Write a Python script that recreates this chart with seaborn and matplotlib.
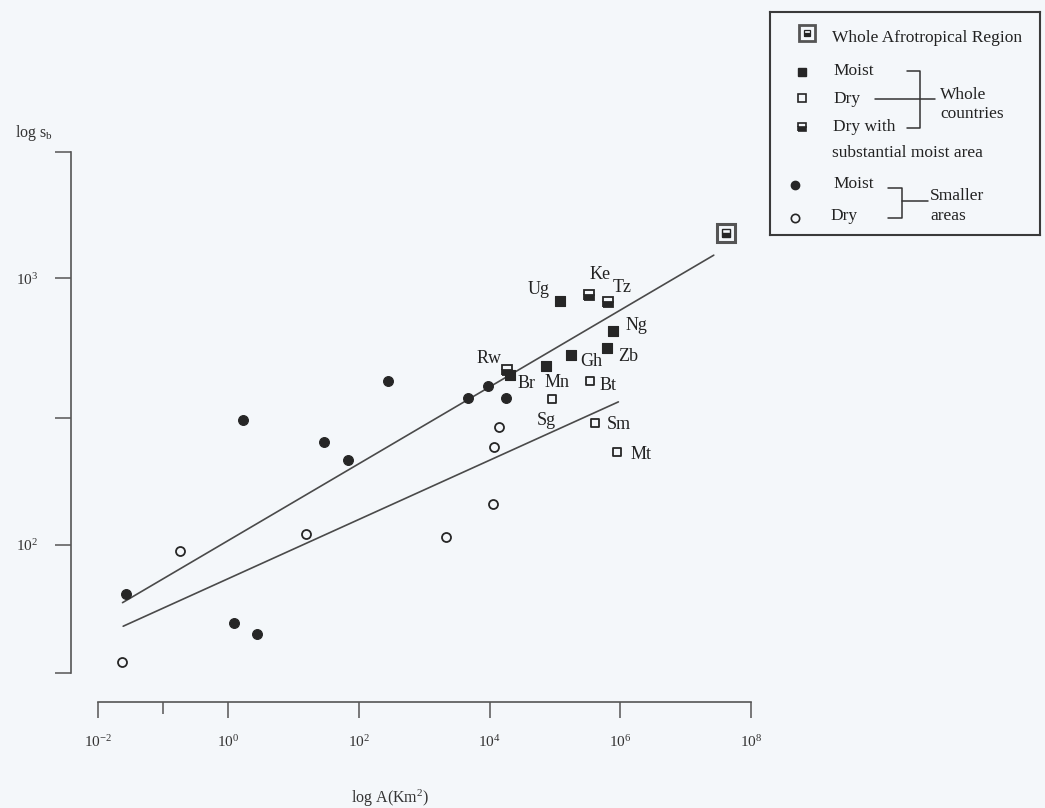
import numpy as np
import pandas as pd
import matplotlib.pyplot as plt
import seaborn as sns
from matplotlib.ticker import FixedLocator, NullLocator, NullFormatter

# values (log10 of area in km2, log10 of species count)
moist_country_names = ["Ug", "Ng", "Zb", "Gh", "Mn", "Br"]
moist_country_logA = [5.07, 5.89, 5.80, 5.24, 4.86, 4.31]
moist_country_logS = [2.915, 2.804, 2.738, 2.712, 2.671, 2.637]

mixed_country_names = ["Ke", "Tz", "Rw"]
mixed_country_logA = [5.52, 5.81, 4.27]
mixed_country_logS = [2.936, 2.910, 2.656]

dry_country_names = ["Bt", "Sg", "Sm", "Mt"]
dry_country_logA = [5.54, 4.95, 5.61, 5.95]
dry_country_logS = [2.615, 2.546, 2.456, 2.348]

region_logA = [7.61]
region_logS = [3.169]

moist_area_logA = [-1.56, 0.09, 0.23, 0.44, 1.47, 1.83, 2.45, 3.67, 3.98, 4.25]
moist_area_logS = [1.815, 1.706, 2.469, 1.666, 2.387, 2.319, 2.615, 2.550, 2.596, 2.550]

dry_area_logA = [-1.63, -0.74, 1.19, 3.33, 4.05, 4.06, 4.14]
dry_area_logS = [1.560, 1.978, 2.040, 2.029, 2.153, 2.366, 2.444]

# fitted lines log S = log c + z log A, drawn over the area range
moist_fit = {"logc": 2.017, "z": 0.144, "logA": [-1.62, 7.43]}
dry_fit = {"logc": 1.874, "z": 0.111, "logA": [-1.61, 5.97]}

x_ticks = [-2, 0, 2, 4, 6, 8]
y_ticks = [2, 3]

# label offsets in points
label_offsets = {
    "Ug": (-15, 8), "Ke": (8, 15), "Tz": (10, 10.5), "Ng": (17, 3.4),
    "Zb": (15, -6), "Gh": (15, -4.8), "Mn": (8, -12), "Rw": (-13, 8),
    "Br": (12, -6), "Bt": (13, -3), "Sg": (-4, -15), "Sm": (17, -1),
    "Mt": (17, -2),
}

bg = "#f4f7fa"
ink = "#262626"
axis_col = "#555555"

sns.set_theme(style="ticks")
plt.rcParams["font.family"] = ["Liberation Serif", "DejaVu Serif"]
plt.rcParams["mathtext.fontset"] = "custom"
plt.rcParams["mathtext.rm"] = "Liberation Serif"
plt.rcParams["mathtext.it"] = "Liberation Serif:italic"


def frame(logA, logS, names=None):
    d = pd.DataFrame({"A": 10 ** np.array(logA), "S": 10 ** np.array(logS)})
    if names is not None:
        d["name"] = names
    return d


W, H = 1045, 808
fig = plt.figure(figsize=(W / 100, H / 100), dpi=100, facecolor=bg)
ax = fig.add_axes([97.7 / W, 1 - 672.7 / H, (751 - 97.7) / W, (672.7 - 151.7) / H])
ax.set_facecolor(bg)
ax.set_xscale("log")
ax.set_yscale("log")

# regression lines
for fit in (moist_fit, dry_fit):
    la = np.array(fit["logA"])
    d = frame(la, fit["logc"] + fit["z"] * la)
    sns.lineplot(data=d, x="A", y="S", ax=ax, color="#4a4a4a", linewidth=1.2)

# smaller areas
sns.scatterplot(data=frame(moist_area_logA, moist_area_logS), x="A", y="S", ax=ax,
                marker="o", s=50, color=ink, edgecolor=ink, linewidth=0.8, zorder=3)
sns.scatterplot(data=frame(dry_area_logA, dry_area_logS), x="A", y="S", ax=ax,
                marker="o", s=42, color=bg, edgecolor=ink, linewidth=1.3, zorder=3)

# whole countries
mc = frame(moist_country_logA, moist_country_logS, moist_country_names)
dc = frame(dry_country_logA, dry_country_logS, dry_country_names)
xc = frame(mixed_country_logA, mixed_country_logS, mixed_country_names)
sns.scatterplot(data=mc, x="A", y="S", ax=ax, marker="s", s=44, color=ink,
                edgecolor=ink, linewidth=0.8, zorder=3)
sns.scatterplot(data=dc, x="A", y="S", ax=ax, marker="s", s=40, color=bg,
                edgecolor=ink, linewidth=1.3, zorder=3)
ax.plot(xc["A"], xc["S"], ls="none", marker="s", ms=7, fillstyle="bottom",
        mfc=ink, mfcalt=bg, mec=ink, mew=1.3, zorder=3)

# whole Afrotropical region
rg = frame(region_logA, region_logS)
ax.plot(rg["A"], rg["S"], ls="none", marker="s", ms=13, mfc=bg, mec="#555555",
        mew=2.2, zorder=3)
ax.plot(rg["A"], rg["S"], ls="none", marker="s", ms=6, fillstyle="bottom",
        mfc=ink, mfcalt=bg, mec=ink, mew=1.0, zorder=4)

for d in (mc, dc, xc):
    for _, r in d.iterrows():
        ax.annotate(r["name"], (r["A"], r["S"]), xytext=label_offsets[r["name"]],
                    textcoords="offset points", ha="center", va="center",
                    fontsize=13, color="#222222")

# axes styling
ax.set_xlim(1e-2, 1e8)
ax.set_ylim(10 ** 1.521, 10 ** 3.475)
ax.set_xlabel("")
ax.set_ylabel("")
for side in ("top", "right"):
    ax.spines[side].set_visible(False)
ax.spines["left"].set_position(("outward", 19.4))
ax.spines["bottom"].set_position(("outward", 21.1))
for side in ("left", "bottom"):
    ax.spines[side].set_color(axis_col)
    ax.spines[side].set_linewidth(1.2)

ax.xaxis.set_major_locator(FixedLocator([10.0 ** t for t in x_ticks]))
ax.set_xticklabels([f"$10^{{{t}}}$" for t in x_ticks])
ax.xaxis.set_minor_locator(FixedLocator([0.1]))
ax.xaxis.set_minor_formatter(NullFormatter())
ax.yaxis.set_major_locator(FixedLocator([10 ** 1.521, 10.0 ** y_ticks[0], 300,
                                         10.0 ** y_ticks[1], 10 ** 3.475]))
ax.set_yticklabels(["", f"$10^{y_ticks[0]}$", "", f"$10^{y_ticks[1]}$", ""])
ax.yaxis.set_minor_locator(NullLocator())
ax.tick_params(axis="both", which="major", length=11.3, width=1.1, color=axis_col,
               labelsize=11, labelcolor="#333333", pad=12)
ax.tick_params(axis="x", which="minor", length=8.5, width=1.1, color=axis_col)

fig.text(390 / W, 1 - 798 / H, "log A(Km$^2$)", ha="center", va="center",
         fontsize=11.5, color="#333333")
fig.text(15 / W, 1 - 133 / H, "log s$_\\mathrm{b}$", ha="left", va="center",
         fontsize=11.5, color="#333333")

# legend box drawn in pixel coordinates
lx0, lx1, ly0, ly1 = 770, 1040, 11.7, 235
lax = fig.add_axes([lx0 / W, 1 - ly1 / H, (lx1 - lx0) / W, (ly1 - ly0) / H])
lax.set_xlim(lx0, lx1)
lax.set_ylim(ly1, ly0)
lax.set_facecolor(bg)
lax.set_xticks([])
lax.set_yticks([])
for s in lax.spines.values():
    s.set_color("#3a3a3a")
    s.set_linewidth(1.5)

lax.plot([806.7], [33.3], marker="s", ms=11, mfc=bg, mec="#555555", mew=2.0)
lax.plot([806.7], [33.3], marker="s", ms=5, fillstyle="bottom", mfc=ink,
         mfcalt=bg, mec=ink, mew=0.9)
lax.plot([801.7], [71.7], marker="s", ms=5.5, mfc=ink, mec=ink)
lax.plot([801.7], [98.3], marker="s", ms=5.5, mfc=bg, mec=ink, mew=1.2)
lax.plot([801.7], [126.7], marker="s", ms=6, fillstyle="bottom", mfc=ink,
         mfcalt=bg, mec=ink, mew=1.2)
lax.plot([795], [185], marker="o", ms=6, mfc=ink, mec=ink)
lax.plot([795], [218.3], marker="o", ms=6, mfc=bg, mec=ink, mew=1.2)

legend_texts = [
    (831.7, 38, "Whole Afrotropical Region"), (833, 71, "Moist"), (833, 99, "Dry"),
    (833, 127, "Dry with"), (831.7, 153, "substantial moist area"),
    (833, 184, "Moist"), (830, 216, "Dry"), (940, 95, "Whole"),
    (940, 114, "countries"), (930, 196, "Smaller"), (930, 216, "areas"),
]
for tx, ty, t in legend_texts:
    lax.text(tx, ty, t, ha="left", va="center", fontsize=12.5, color="#222222")

br = dict(color="#333333", linewidth=1.1)
lax.plot([906.7, 920, 920, 906.7], [70.7, 70.7, 128.3, 128.3], **br)
lax.plot([875, 935], [99, 99], **br)
lax.plot([888.3, 901.7, 901.7, 888.3], [188.3, 188.3, 218.3, 218.3], **br)
lax.plot([901.7, 928.3], [201, 201], **br)

fig.savefig("out.png", dpi=100, facecolor=bg)
